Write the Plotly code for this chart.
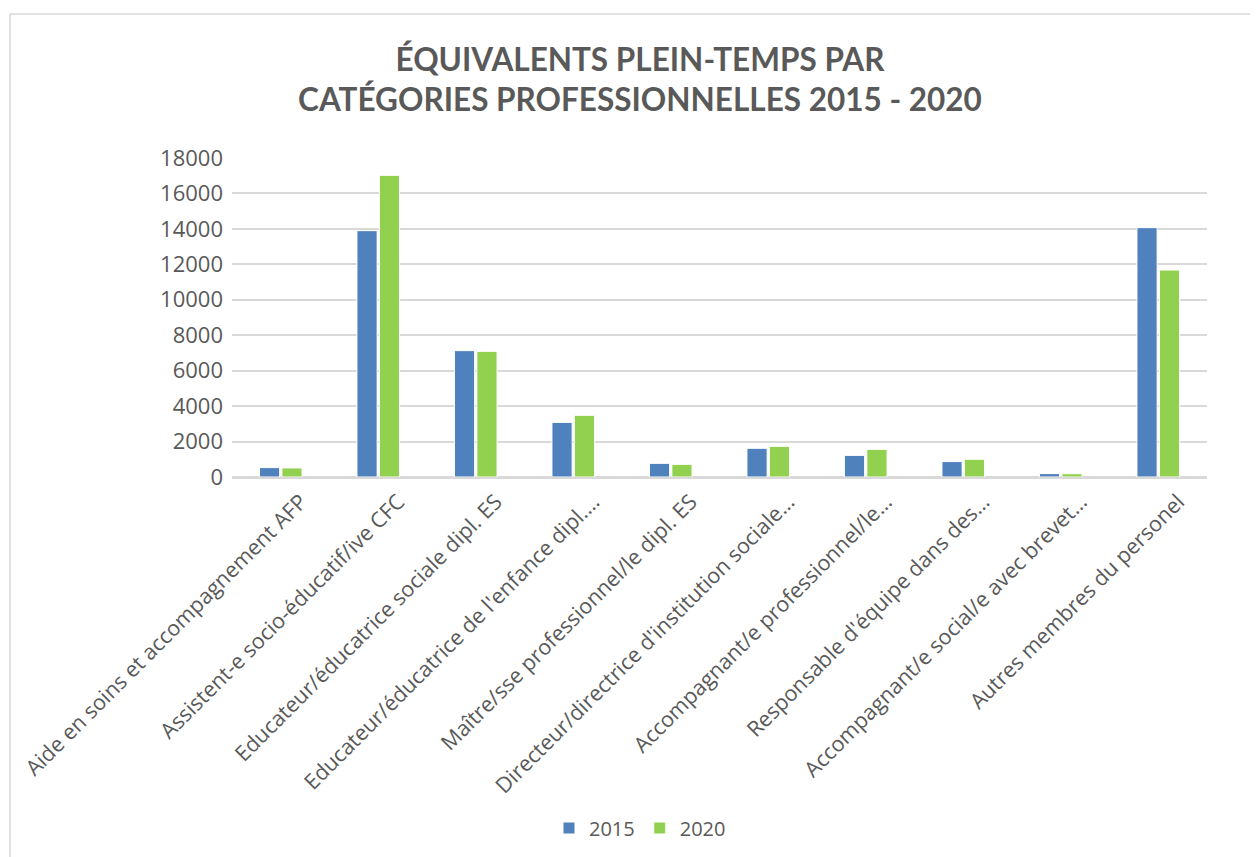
import plotly.graph_objects as go

categories = [
    "Aide en soins et accompagnement AFP",
    "Assistent-e socio-éducatif/ive CFC",
    "Educateur/éducatrice sociale dipl. ES",
    "Educateur/éducatrice de l'enfance dipl.…",
    "Maître/sse professionnel/le dipl. ES",
    "Directeur/directrice d'institution sociale…",
    "Accompagnant/e professionnel/le…",
    "Responsable d'équipe dans des…",
    "Accompagnant/e social/e avec brevet…",
    "Autres membres du personel",
]
values_2015 = [530, 13900, 7130, 3080, 770, 1620, 1220, 870, 190, 14070]
values_2020 = [510, 17020, 7090, 3480, 715, 1730, 1560, 1000, 185, 11680]
series_names = ["2015", "2020"]
colors = ["#4F81BD", "#92D050"]
y_ticks = list(range(0, 18001, 2000))
y_ticktext = [str(v) for v in y_ticks]

FONT = "'Open Sans', sans-serif"
TITLE_FONT = "Lato, 'Open Sans', sans-serif"
GRAY = "#595959"

fig = go.Figure()
for name, vals, col in zip(series_names, [values_2015, values_2020], colors):
    fig.add_trace(go.Bar(
        x=categories, y=vals, name=name,
        marker=dict(color=col, line=dict(color="white", width=1)),
    ))

# page offset of the figure (body margin)
OFF = 8
W, H = 1258 - OFF, 857 - OFF
# plot area in reference pixels, converted to figure pixels
L, R, T, B = 232 - OFF, 1207 - OFF, 158 - OFF, 477 - OFF
pw, ph = R - L, B - T

def px(x):
    return (x - OFF - L) / pw

def py(y):
    return (B - (y - OFF)) / ph

fig.update_layout(
    width=W, height=H,
    margin=dict(l=L, r=W - R, t=T, b=H - B, autoexpand=False),
    paper_bgcolor="white", plot_bgcolor="white",
    barmode="group", bargap=0.54, bargroupgap=0.1,
    font=dict(family=FONT, color=GRAY, size=20),
    title=dict(
        text="ÉQUIVALENTS PLEIN-TEMPS PAR<br>CATÉGORIES PROFESSIONNELLES 2015 - 2020",
        x=(640 - OFF) / W, xanchor="center", y=1 - (70.5 - OFF) / H, yanchor="middle",
        font=dict(family=TITLE_FONT, size=31.5, color=GRAY, weight="bold"),
    ),
    xaxis=dict(
        tickangle=-45, showgrid=False, showline=True, linecolor="#d9d9d9", linewidth=1.5,
        ticks="", tickfont=dict(size=21.5, color=GRAY), automargin=False,
        ticklabelshift=20, ticklabelstandoff=2,
    ),
    yaxis=dict(
        range=[0, 18000], tickvals=y_ticks, ticktext=y_ticktext,
        showgrid=True, gridcolor="#d9d9d9", gridwidth=1.5,
        zeroline=True, zerolinecolor="#d9d9d9", zerolinewidth=1.5,
        tickfont=dict(size=22, color=GRAY), ticklabelstandoff=8, automargin=False,
    ),
    legend=dict(
        orientation="h", x=(640 - OFF) / W, xref="container", xanchor="center",
        y=1 - (828 - OFF) / H, yref="container", yanchor="middle",
        font=dict(size=20, color=GRAY), traceorder="normal",
    ),
    shapes=[dict(
        type="rect", xref="paper", yref="paper",
        x0=px(10), x1=px(1262), y0=py(862), y1=py(14),
        line=dict(color="#d9d9d9", width=1.5), fillcolor="rgba(0,0,0,0)", layer="below",
    )],
)

fig.write_html("out.html")
